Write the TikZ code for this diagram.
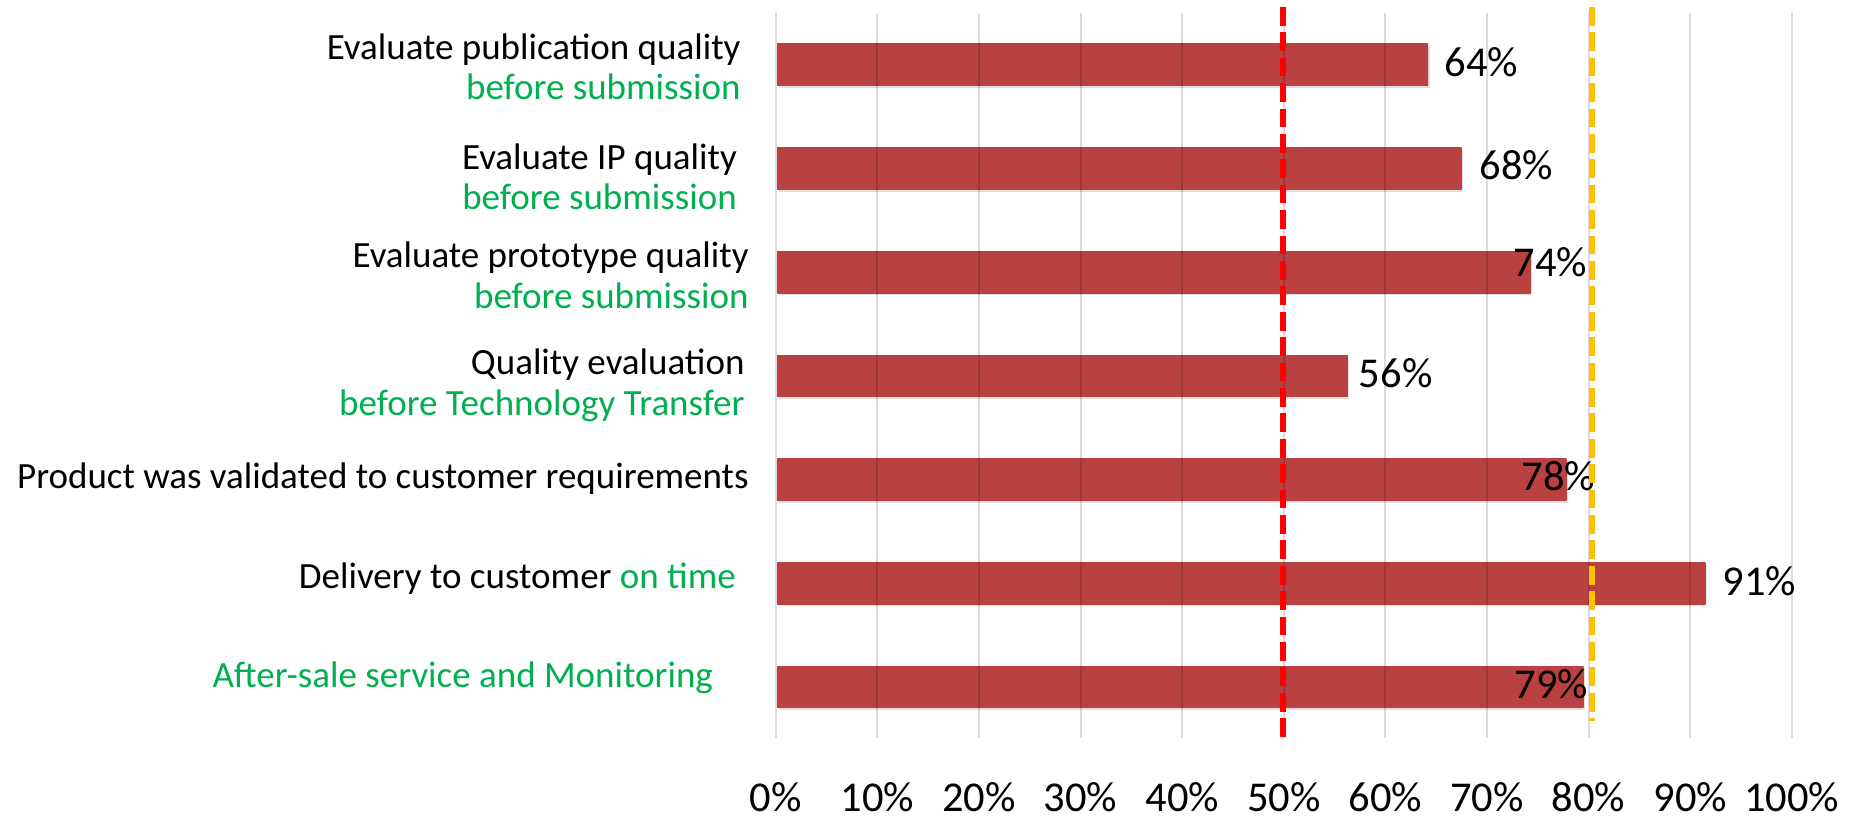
\documentclass[tikz,border=0pt]{standalone}
\usepackage{fontspec}
\setmainfont{Carlito}
\usepackage{xcolor}
\usepackage{tikz}
\usetikzlibrary{shadows}
\definecolor{okgreen}{HTML}{00B050}
\definecolor{barred}{RGB}{185,65,65}
\definecolor{barlight}{RGB}{214,92,92}
\definecolor{goalgold}{HTML}{FFC000}
\pgfdeclareverticalshading{barshade}{100bp}{color(0bp)=(barred); color(90bp)=(barred); color(100bp)=(barlight)}
\tikzset{
    barbox/.style={shading=barshade, drop shadow={shadow xshift=0.8pt, shadow yshift=-1.2pt, opacity=0.25}},
    catlabel/.style={inner sep=0pt, anchor=base east, align=right, font=\fontsize{18.5pt}{20.35pt}\selectfont},
    pctlabel/.style={inner sep=0pt, anchor=base west, font=\fontsize{21.25pt}{24pt}\selectfont},
    ticklabel/.style={inner sep=0pt, anchor=base, font=\fontsize{21.25pt}{24pt}\selectfont},
    gridline/.style={line width=1pt, draw=black, opacity=0.14},
    goalline/.style={line width=2.85pt, dash pattern=on 9.35pt off 3.35pt}}

\begin{document}
\begin{tikzpicture}[x=0.5pt,y=-0.5pt]
\fill[white] (0,0) rectangle (1855,818);
\useasboundingbox (0,0) rectangle (1855,818);
\foreach \v [count=\i] in {64.2,67.5,74.3,56.3,77.8,91.5,79.5}
  \path[barbox] (777,{44+103.67*(\i-1)}) rectangle ({775.8+10.16*\v},{85.7+103.67*(\i-1)});
\foreach \k in {0,...,10}{
  \pgfmathtruncatemacro\p{10*\k}
  \coordinate (g\k top) at ({775.8+101.6*\k},13);
  \coordinate (g\k bot) at ({775.8+101.6*\k},738);
  \draw[gridline] (g\k top) -- (g\k bot);
  \node[ticklabel] (tick\k) at ({775.8+101.6*\k},811) {\p\%};
}
\node[catlabel] (cat1) at (741,100) {Evaluate publication quality\\\textcolor{okgreen}{before submission}};
\node[catlabel] (cat2) at (737.2,210) {Evaluate IP quality\\\textcolor{okgreen}{before submission}};
\node[catlabel] (cat3) at (749,308.3) {Evaluate prototype quality\\\textcolor{okgreen}{before submission}};
\node[catlabel] (cat4) at (744.9,415) {Quality evaluation\\\textcolor{okgreen}{before Technology Transfer}};
\node[catlabel] (cat5) at (749,488.3) {Product was validated to customer requirements};
\node[catlabel] (cat6) at (736.2,588.3) {Delivery to customer \textcolor{okgreen}{on time}};
\node[catlabel] (cat7) at (713.3,687.3) {\textcolor{okgreen}{After-sale service and Monitoring}};
\foreach \x/\y/\t in {1444.3/76.7/64,1479.3/180/68,1513.3/276/74,1358.5/387.3/56,1521.2/490.7/78,1722.3/595/91,1514.2/698.3/79}
  \node[pctlabel] (val\t) at (\x,\y) {\t\%};
\coordinate (redtop) at (1283,7);
\coordinate (redbot) at (1283,743);
\draw[goalline, red] (redtop) -- (redbot);
\coordinate (goldtop) at (1592,7);
\coordinate (goldbot) at (1592,721);
\draw[goalline, goalgold] (goldtop) -- (goldbot);
\end{tikzpicture}
\end{document}
